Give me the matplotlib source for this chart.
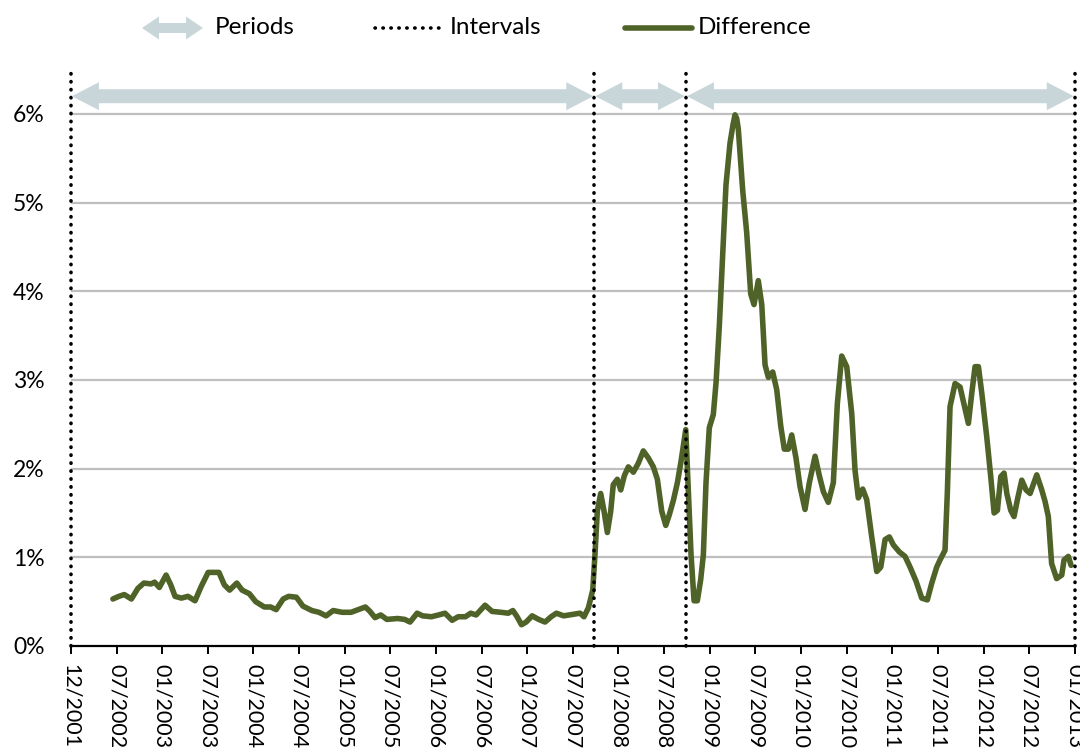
import numpy as np
import matplotlib
matplotlib.use("Agg")
import matplotlib.pyplot as plt
from matplotlib.patches import Polygon
from matplotlib.lines import Line2D

plt.rcParams['font.family'] = ['Lato', 'DejaVu Sans']

# x axis: one tick every half year, 12/2001 sits at 2002.0
tick_labels = ["12/2001", "07/2002", "01/2003", "07/2003", "01/2004", "07/2004",
               "01/2005", "07/2005", "01/2006", "07/2006", "01/2007", "07/2007",
               "01/2008", "07/2008", "01/2009", "07/2009", "01/2010", "07/2010",
               "01/2011", "07/2011", "01/2012", "07/2012", "01/2013"]
tick_pos = [2002.0 + 0.5 * i for i in range(len(tick_labels))]

y_ticks = [0, 1, 2, 3, 4, 5, 6]

# period boundaries (dotted "Intervals")
interval_bounds = [2002.0, 2007.735, 2008.74, 2013.0]
arrow_level = 6.2

# Difference series (decimal year, percent)
years = [
    2002.460, 2002.526, 2002.585, 2002.663, 2002.734, 2002.800, 2002.879, 2002.917, 2002.969,
    2003.043, 2003.094, 2003.141, 2003.211, 2003.282, 2003.360, 2003.427, 2003.504, 2003.622,
    2003.681, 2003.739, 2003.818, 2003.876, 2003.955,
    2004.025, 2004.119, 2004.189, 2004.249, 2004.326, 2004.386, 2004.471, 2004.542, 2004.640,
    2004.718, 2004.796, 2004.874, 2004.972,
    2005.070, 2005.148, 2005.227, 2005.277, 2005.332, 2005.395, 2005.462, 2005.579, 2005.657,
    2005.716, 2005.794, 2005.853, 2005.950,
    2006.029, 2006.099, 2006.177, 2006.244, 2006.323, 2006.381, 2006.440, 2006.538, 2006.615,
    2006.714, 2006.792, 2006.843, 2006.889, 2006.937, 2006.988,
    2007.054, 2007.125, 2007.195, 2007.262, 2007.320, 2007.399, 2007.516, 2007.579, 2007.622,
    2007.670, 2007.718, 2007.743, 2007.768, 2007.805, 2007.842, 2007.878, 2007.915, 2007.943,
    2007.987,
    2008.025, 2008.064, 2008.108, 2008.163, 2008.217, 2008.272, 2008.327, 2008.382, 2008.426,
    2008.474, 2008.518, 2008.557, 2008.601, 2008.645, 2008.685, 2008.737, 2008.765, 2008.795,
    2008.828, 2008.864, 2008.901, 2008.930, 2008.959, 2008.995,
    2009.039, 2009.069, 2009.105, 2009.142, 2009.178, 2009.222, 2009.255, 2009.277, 2009.295,
    2009.313, 2009.361,
    2009.405, 2009.449, 2009.485, 2009.532, 2009.570, 2009.606, 2009.642, 2009.690, 2009.734,
    2009.778, 2009.817, 2009.861, 2009.898, 2009.945, 2009.989,
    2010.044, 2010.091, 2010.154, 2010.201, 2010.245, 2010.299, 2010.354, 2010.398, 2010.446,
    2010.501, 2010.556, 2010.592, 2010.628, 2010.676, 2010.720, 2010.775, 2010.830, 2010.874,
    2010.921, 2010.968,
    2011.012, 2011.078, 2011.140, 2011.195, 2011.261, 2011.323, 2011.384, 2011.433, 2011.487,
    2011.523, 2011.578, 2011.603, 2011.633, 2011.688, 2011.743, 2011.787, 2011.834, 2011.871,
    2011.907, 2011.944, 2011.981,
    2012.035, 2012.079, 2012.116, 2012.152, 2012.189, 2012.225, 2012.255, 2012.298, 2012.334,
    2012.371, 2012.419, 2012.466, 2012.510, 2012.583, 2012.638, 2012.674, 2012.710, 2012.746,
    2012.801, 2012.857, 2012.882, 2012.929, 2012.959,
]
diff_pct = [
    0.53, 0.56, 0.58, 0.53, 0.65, 0.71, 0.70, 0.72, 0.66,
    0.80, 0.69, 0.56, 0.54, 0.56, 0.51, 0.67, 0.83, 0.83,
    0.69, 0.63, 0.71, 0.63, 0.59,
    0.50, 0.44, 0.44, 0.41, 0.53, 0.56, 0.55, 0.45, 0.40,
    0.38, 0.34, 0.40, 0.38,
    0.38, 0.41, 0.44, 0.39, 0.32, 0.35, 0.30, 0.31, 0.30,
    0.27, 0.37, 0.34, 0.33,
    0.35, 0.37, 0.29, 0.33, 0.33, 0.37, 0.35, 0.46, 0.39,
    0.38, 0.37, 0.40, 0.33, 0.24, 0.27,
    0.34, 0.30, 0.27, 0.33, 0.37, 0.34, 0.36, 0.37, 0.33,
    0.43, 0.63, 1.04, 1.52, 1.72, 1.52, 1.28, 1.52, 1.82,
    1.88,
    1.76, 1.92, 2.02, 1.96, 2.06, 2.20, 2.12, 2.02, 1.88,
    1.52, 1.36, 1.48, 1.64, 1.84, 2.08, 2.44, 1.76, 1.03,
    0.51, 0.51, 0.75, 1.03, 1.84, 2.46,
    2.61, 2.97, 3.61, 4.42, 5.20, 5.67, 5.88, 5.99, 5.95,
    5.83, 5.14,
    4.66, 3.97, 3.85, 4.12, 3.85, 3.17, 3.03, 3.09, 2.89,
    2.48, 2.22, 2.22, 2.38, 2.12, 1.80,
    1.54, 1.84, 2.14, 1.92, 1.74, 1.62, 1.84, 2.73, 3.27,
    3.15, 2.62, 1.98, 1.67, 1.77, 1.65, 1.23, 0.84, 0.89,
    1.20, 1.23,
    1.14, 1.06, 1.01, 0.89, 0.73, 0.54, 0.52, 0.71, 0.89,
    0.97, 1.08, 1.72, 2.70, 2.96, 2.92, 2.72, 2.51, 2.85,
    3.15, 3.15, 2.85,
    2.36, 1.91, 1.50, 1.53, 1.91, 1.95, 1.72, 1.53, 1.46,
    1.65, 1.87, 1.76, 1.72, 1.93, 1.76, 1.63, 1.46, 0.93,
    0.76, 0.80, 0.97, 1.01, 0.91,
]

line_color = "#4f6228"
arrow_color = "#c8d6da"
grid_color = "#bfbfbf"
dots = (0, (0.1, 2.1))

W, H = 1080, 751
fig = plt.figure(figsize=(W / 100, H / 100), dpi=100)


def px(x, y):
    """pixel (from top-left) -> figure fraction"""
    return x / W, 1 - y / H


def double_arrow_px(x0, x1, y, shaft, head_h, head_l, color, z=3):
    """double headed arrow in display pixels (origin bottom-left)"""
    s, h = shaft / 2, head_h / 2
    pts = [(x0, y), (x0 + head_l, y + h), (x0 + head_l, y + s), (x1 - head_l, y + s),
           (x1 - head_l, y + h), (x1, y), (x1 - head_l, y - h), (x1 - head_l, y - s),
           (x0 + head_l, y - s), (x0 + head_l, y - h)]
    return Polygon(pts, closed=True, facecolor=color, edgecolor="none",
                   transform=None, zorder=z)


left, bottom = px(70.9, 646)
right, top = px(1074.8, 69.6)
ax = fig.add_axes([left, bottom, right - left, top - bottom])
ax.set_xlim(tick_pos[0], tick_pos[-1])
ax.set_ylim(0, 6.5)

for s in ["top", "right", "left"]:
    ax.spines[s].set_visible(False)
ax.spines["bottom"].set_linewidth(1.6)
ax.spines["bottom"].set_zorder(6)

ax.set_yticks(y_ticks)
ax.set_yticklabels([f"{v}%" for v in y_ticks])
ax.tick_params(axis="y", length=0, pad=19, labelsize=16.5)
ax.set_xticks(tick_pos)
ax.set_xticklabels(tick_labels, rotation=-90, va="top", ha="center")
ax.tick_params(axis="x", direction="out", length=6, width=1.4, pad=7, labelsize=15.5)

for v in y_ticks[1:]:
    ax.axhline(v, color=grid_color, lw=1.6, zorder=1)

ax.plot(years, diff_pct, color=line_color, lw=4.0, solid_joinstyle="round",
        solid_capstyle="round", zorder=4)

for b in interval_bounds:
    ax.axvline(b, color="black", lw=2.6, linestyle=dots,
               dash_capstyle="round", zorder=5, clip_on=False)

# period arrows
for a, b in zip(interval_bounds[:-1], interval_bounds[1:]):
    (xa, ya), (xb, _) = ax.transData.transform([(a, arrow_level), (b, arrow_level)])
    fig.add_artist(double_arrow_px(xa + 1, xb - 1, ya, 14, 28, 27, arrow_color))

# legend
ly = H - 28
fig.add_artist(double_arrow_px(142, 203, ly, 10, 23, 17, arrow_color))
fig.text(*px(215, 28), "Periods", fontsize=17.5, va="center", ha="left")
fig.add_artist(Line2D([375 / W, 445 / W], [1 - 28 / H] * 2, color="black", lw=2.6,
                      linestyle=dots, dash_capstyle="round"))
fig.text(*px(450, 28), "Intervals", fontsize=17.5, va="center", ha="left")
fig.add_artist(Line2D([625 / W, 692 / W], [1 - 28 / H] * 2, color=line_color, lw=4.0,
                      solid_capstyle="round"))
fig.text(*px(698, 28), "Difference", fontsize=17.5, va="center", ha="left")

fig.savefig("out.png", dpi=100)
